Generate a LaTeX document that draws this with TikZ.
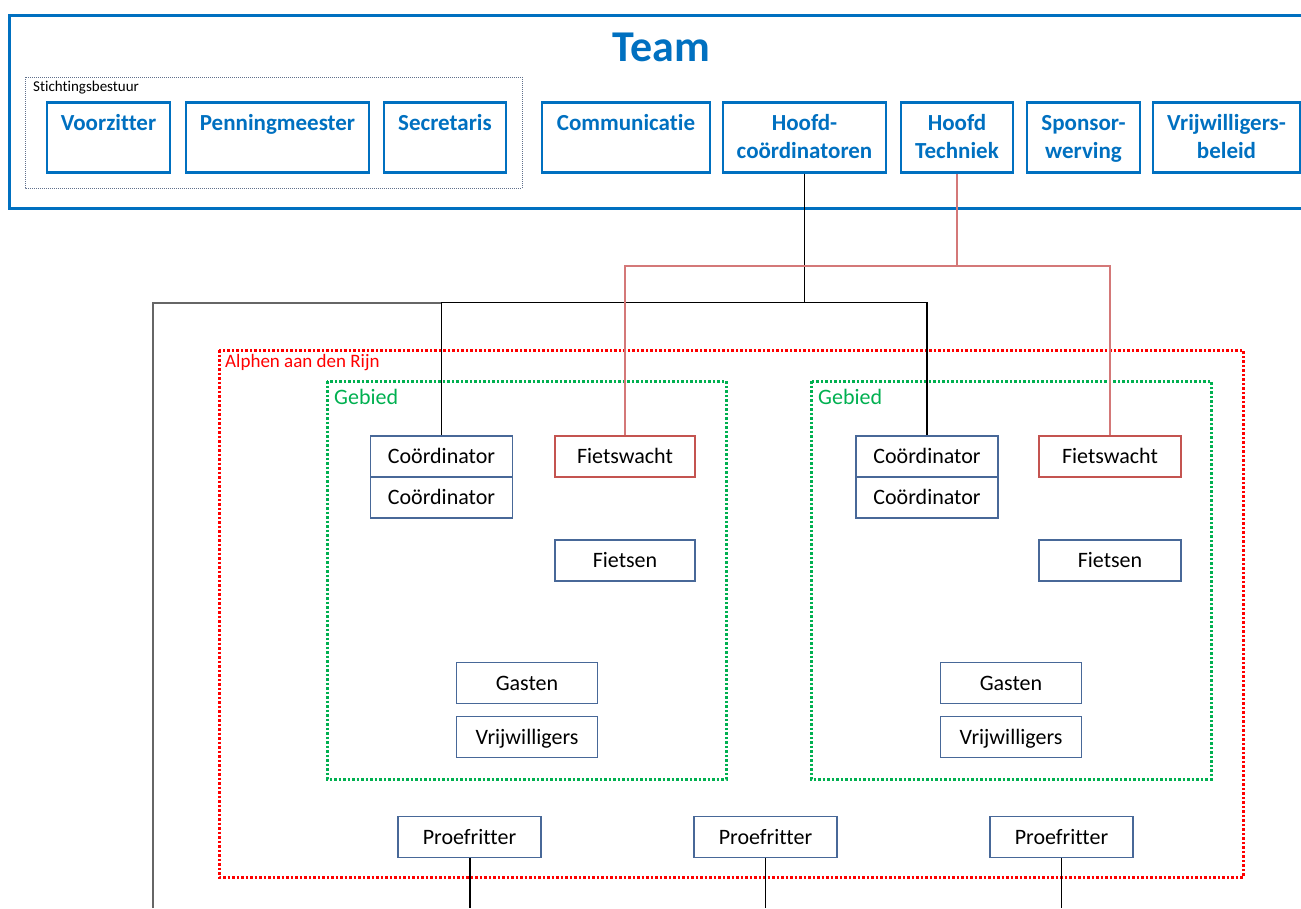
\documentclass[tikz,border=0pt]{standalone}
\usepackage{fontspec}
\setmainfont{Carlito}[Ligatures=NoCommon]
\usepackage{tikz}
\usetikzlibrary{arrows}

\definecolor{teamblue}{RGB}{0,112,192}
\definecolor{boxblue}{RGB}{72,104,152}
\definecolor{fwred}{RGB}{196,84,80}
\definecolor{linered}{RGB}{212,120,120}
\definecolor{areagreen}{RGB}{0,176,80}
\definecolor{boardgray}{RGB}{96,112,140}

\tikzset{
	topbox/.style={draw=teamblue, line width=2.5pt, text=teamblue, anchor=north,
		font=\bfseries\fontsize{23}{28}\selectfont, align=center, inner sep=0pt,
		minimum height=70pt, text height=28.5pt, text depth=41.5pt},
	twoline/.style={text height=56.5pt, text depth=13.5pt},
	unitbox/.style={draw=boxblue, line width=1.3pt, minimum width=142pt, minimum height=41pt,
		inner sep=0pt, font=\fontsize{22}{26}\selectfont, text height=15pt, text depth=1pt},
	wachtbox/.style={unitbox, draw=fwred},
	areaframe/.style={areagreen, line width=3pt, dash pattern=on 2.5pt off 2pt},
	townframe/.style={red, line width=3pt, dash pattern=on 2.5pt off 2pt},
	blackline/.style={black, line width=1.5pt},
	grayline/.style={black!60, line width=2pt},
	redline/.style={linered, line width=1.5pt}
}

\begin{document}
\begin{tikzpicture}[x=1pt,y=-1pt]
	\useasboundingbox (0,0) rectangle (1301,908);
	\clip (0,0) rectangle (1301,908);

	% team frame
	\draw[teamblue, line width=3pt] (9,15) rectangle (1330,208);
	\node[anchor=base, text=teamblue, font=\bfseries\fontsize{44}{52}\selectfont] (team) at (661,61) {Team};
	\draw[boardgray, line width=1pt, dash pattern=on 1pt off 1pt] (25,77) rectangle (522,188);
	\node[anchor=base west, inner sep=0pt, font=\fontsize{15}{18}\selectfont] (board) at (33,91) {Stichtingsbestuur};

	\node[topbox, minimum width=123pt] (vz) at (108.5,101) {Voorzitter};
	\node[topbox, minimum width=183pt] (pm) at (277.5,101) {Penningmeester};
	\node[topbox, minimum width=122pt] (sec) at (445,101) {Secretaris};
	\node[topbox, minimum width=168pt] (com) at (626,101) {Communicatie};
	\node[topbox, twoline, minimum width=163pt] (hc) at (804.5,101) {Hoofd-\\coördinatoren};
	\node[topbox, twoline, minimum width=112pt] (ht) at (957,101) {Hoofd\\Techniek};
	\node[topbox, twoline, minimum width=113pt] (sp) at (1083.5,101) {Sponsor-\\werving};
	\node[topbox, twoline, minimum width=147pt] (vb) at (1226.5,101) {Vrijwilligers-\\beleid};

	% Alphen aan den Rijn
	\draw[townframe] (219,350) rectangle (1243,877);
	\node[anchor=base west, inner sep=0pt, text=red, font=\fontsize{19}{22}\selectfont] (town) at (225,367) {Alphen aan den Rijn};

	% gebieden
	\draw[areaframe] (327,381) rectangle (726,779);
	\draw[areaframe] (811,381) rectangle (1211,779);
	\node[anchor=base west, inner sep=0pt, text=areagreen, font=\fontsize{22}{26}\selectfont] (areaL) at (334,404) {Gebied};
	\node[anchor=base west, inner sep=0pt, text=areagreen, font=\fontsize{22}{26}\selectfont] (areaR) at (818,404) {Gebied};

	\node[unitbox] (CoorL1) at (441.5,456.5) {Coördinator};
	\node[unitbox] (CoorL2) at (441.5,497.5) {Coördinator};
	\node[wachtbox, minimum width=140pt] (FwL) at (625,456.5) {Fietswacht};
	\node[unitbox, minimum width=140pt] (FietsL) at (625,560.5) {Fietsen};
	\node[unitbox, minimum width=141pt] (GastL) at (527,683) {Gasten};
	\node[unitbox, minimum width=141pt] (VrijL) at (527,737) {Vrijwilligers};

	\node[unitbox] (CoorR1) at (927,456.5) {Coördinator};
	\node[unitbox] (CoorR2) at (927,497.5) {Coördinator};
	\node[wachtbox] (FwR) at (1110,456.5) {Fietswacht};
	\node[unitbox] (FietsR) at (1110,560.5) {Fietsen};
	\node[unitbox, minimum width=141pt] (GastR) at (1011,683) {Gasten};
	\node[unitbox, minimum width=141pt] (VrijR) at (1011,737) {Vrijwilligers};

	\node[unitbox, minimum width=143pt] (P1) at (469.5,837) {Proefritter};
	\node[unitbox, minimum width=143pt] (P2) at (765.5,837) {Proefritter};
	\node[unitbox, minimum width=143pt] (P3) at (1061.5,837) {Proefritter};

	% lijnen
	\coordinate (lvl) at (0,302.5);
	\coordinate (redlvl) at (0,266);
	\coordinate (leftbot) at (153,908);
	\coordinate (bot) at (0,908);

	\draw[grayline] (leftbot) |- (CoorL1.north |- lvl);
	\draw[blackline] (CoorL1.north) -- (CoorL1.north |- lvl) -| (CoorR1.north);
	\draw[blackline] (hc.south) -- (hc.south |- lvl);
	\draw[redline] (ht.south) -- (ht.south |- redlvl);
	\draw[redline] (FwL.north) |- (FwR.north |- redlvl) -- (FwR.north);
	\draw[blackline, line width=2pt] (P1.south) -- (P1.south |- bot);
	\draw[blackline] (P2.south) -- (P2.south |- bot);
	\draw[blackline] (P3.south) -- (P3.south |- bot);
\end{tikzpicture}
\end{document}
